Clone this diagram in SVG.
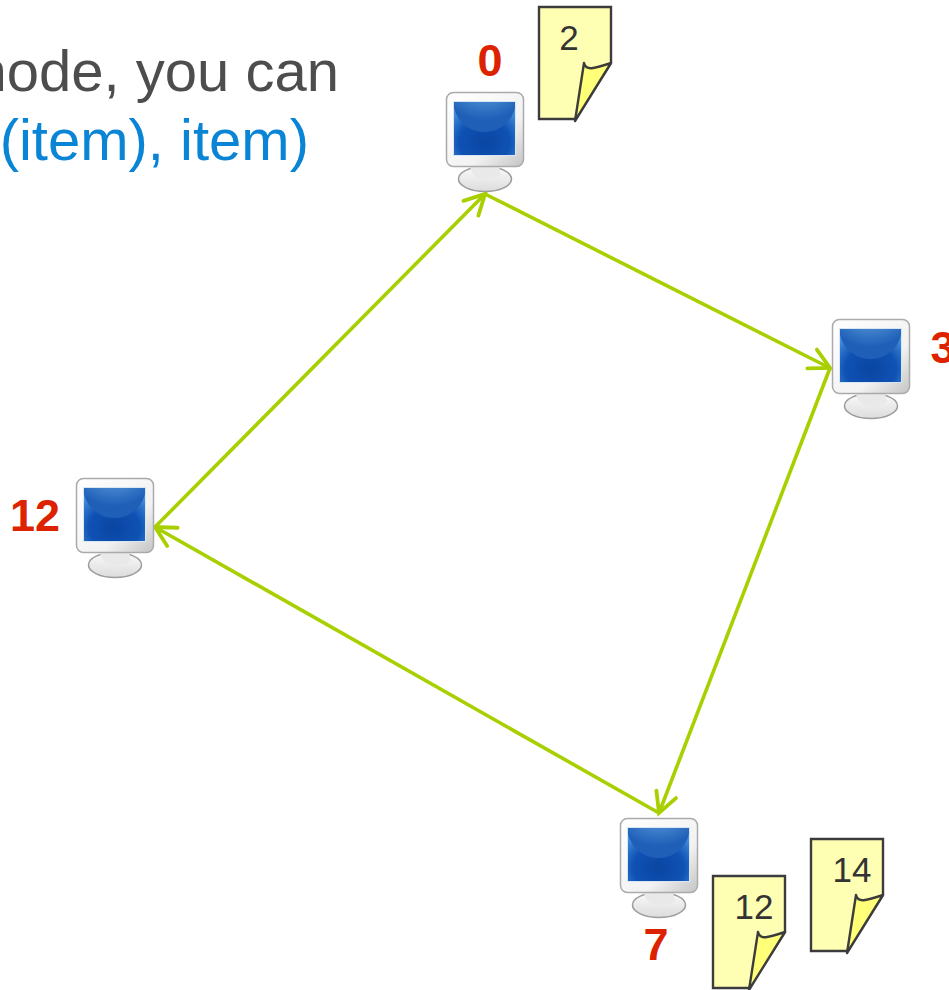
<svg xmlns="http://www.w3.org/2000/svg" width="949" height="990" viewBox="0 0 949 990">
<style>
text{font-family:"Liberation Sans",Arial,sans-serif}
.big{font-size:58px}
.num{font-size:45px;font-weight:bold;fill:#dd2200;text-anchor:middle}
.note{font-size:35px;fill:#333;text-anchor:middle}
.link{fill:none;stroke:#a8d000;stroke-width:3.600}
.sheet{fill:#ffffb4;stroke:#3c3c3c;stroke-width:2.400;stroke-linejoin:miter}
.fold{fill:#ffff78;stroke:#3c3c3c;stroke-width:2.400;stroke-linejoin:round}
</style>
<defs>
<marker id="open" markerUnits="userSpaceOnUse" markerWidth="30" markerHeight="30" refX="23" refY="15" orient="auto" overflow="visible">
<path d="M3 4.500 L23 15 L3 25.500" fill="none" stroke="#a8d000" stroke-width="3.800" stroke-linecap="round" stroke-linejoin="miter"/>
</marker>
<linearGradient id="bezel" x1="0" y1="0" x2="1" y2="1">
<stop offset="0" stop-color="#ffffff"/><stop offset=".65" stop-color="#f2f2f2"/><stop offset="1" stop-color="#c4c4c4"/>
</linearGradient>
<radialGradient id="scr" cx=".5" cy=".75" r=".75">
<stop offset="0" stop-color="#0a45a2"/><stop offset=".55" stop-color="#0f52b4"/><stop offset="1" stop-color="#4a95e0"/>
</radialGradient>
<radialGradient id="gl" cx=".5" cy="0" r=".8">
<stop offset="0" stop-color="#7cbcee"/><stop offset="1" stop-color="#1f5fb8"/>
</radialGradient>
<linearGradient id="base" x1="0" y1="0" x2="0" y2="1">
<stop offset="0" stop-color="#fafafa"/><stop offset="1" stop-color="#dcdcdc"/>
</linearGradient>
<clipPath id="sc"><rect x="8" y="10" width="61" height="53"/></clipPath>
<g id="pc">
<ellipse cx="39" cy="87" rx="26.500" ry="12.500" fill="url(#base)" stroke="#9c9c9c" stroke-width="1.500"/>
<path d="M24 72 C24 78 26 81 29 84 C34 88 50 88 56 82 C52 80 54 76 54 72Z" fill="#e9e9e9"/>
<rect x="0.500" y="0.500" width="77" height="74" rx="7" fill="url(#bezel)" stroke="#aaaaaa" stroke-width="1.500"/>
<rect x="7.500" y="9.500" width="62" height="54" fill="url(#scr)" stroke="#d8e6f4"/>
<ellipse cx="38.500" cy="10" rx="31" ry="30" fill="url(#gl)" clip-path="url(#sc)"/>
</g>
<g id="doc">
<path class="sheet" d="M0 0 H72 V56 L36 112 H0Z"/>
<path class="fold" d="M36 114 L45 56 C47 64 54 62 72 56Z"/>
</g>
</defs>
<text class="big" x="339" y="91" text-anchor="end" fill="#4d4d4d">node, you can</text>
<text class="big" x="309" y="160" text-anchor="end" fill="#0a85d6">(item), item)</text>
<g id="connectors">
<line class="link" x1="485" y1="194" x2="830" y2="368" marker-end="url(#open)"/>
<line class="link" x1="830" y1="368" x2="659" y2="813" marker-end="url(#open)"/>
<line class="link" x1="659" y1="813" x2="155" y2="527" marker-end="url(#open)"/>
<line class="link" x1="155" y1="527" x2="485" y2="194" marker-end="url(#open)"/>
</g>
<g id="node-0"><use href="#pc" x="446" y="92"/><text class="num" x="490" y="76">0</text></g>
<g id="node-3"><use href="#pc" x="832" y="319"/><text class="num" x="943" y="363">3</text></g>
<g id="node-7"><use href="#pc" x="620" y="818"/><text class="num" x="656" y="960">7</text></g>
<g id="node-12"><use href="#pc" x="76" y="478"/><text class="num" x="35" y="531">12</text></g>
<g id="note-2"><use href="#doc" x="539" y="7"/><text class="note" x="569" y="50">2</text></g>
<g id="note-12"><use href="#doc" x="713" y="876"/><text class="note" x="754" y="919">12</text></g>
<g id="note-14"><use href="#doc" x="811" y="839"/><text class="note" x="852" y="882">14</text></g>
</svg>
